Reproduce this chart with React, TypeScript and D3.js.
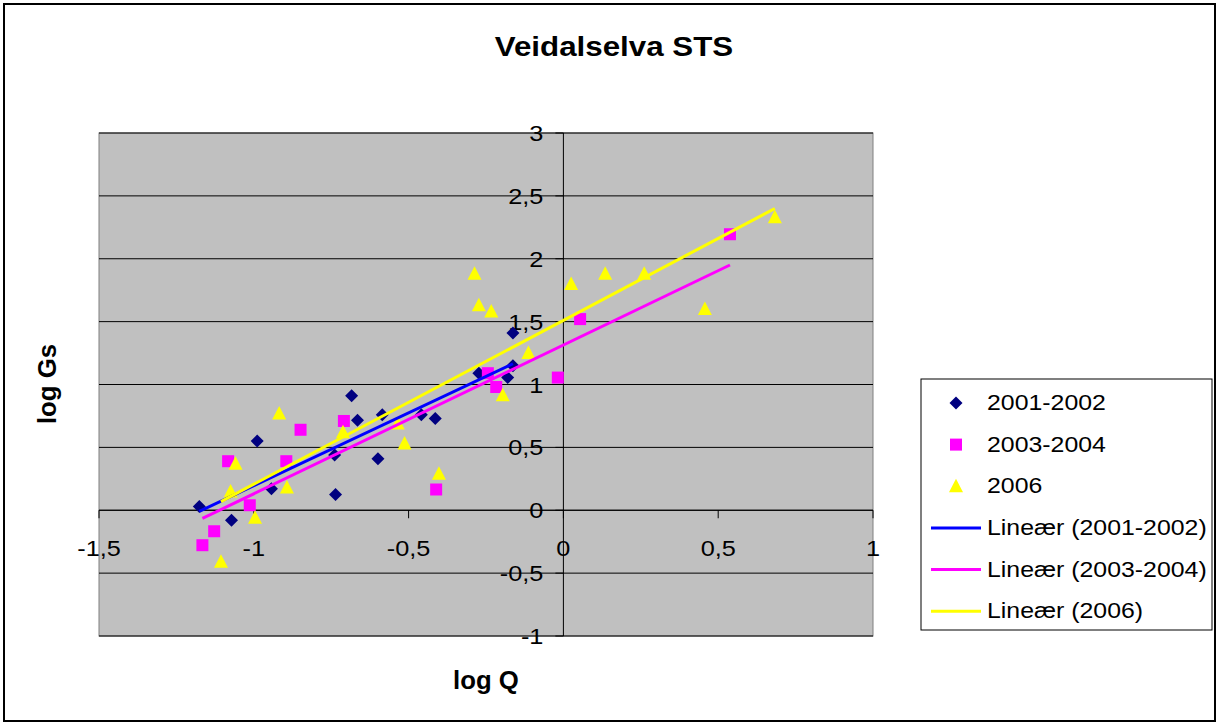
import React from "react"
import * as d3 from "d3"

const W = 1217
const H = 724

// series data (log Q, log Gs)
const S2001_X = [-1.176, -1.072, -0.989, -0.943, -0.736, -0.739, -0.684, -0.665, -0.599, -0.585, -0.459, -0.414, -0.273, -0.18, -0.163, -0.163]
const S2001_Y = [0.03, -0.08, 0.55, 0.17, 0.125, 0.44, 0.91, 0.716, 0.41, 0.76, 0.76, 0.73, 1.09, 1.055, 1.15, 1.41]

const S2003_X = [-1.166, -1.128, -1.083, -1.013, -0.895, -0.849, -0.709, -0.411, -0.244, -0.217, -0.018, 0.054, 0.538]
const S2003_Y = [-0.278, -0.167, 0.39, 0.04, 0.39, 0.64, 0.71, 0.165, 1.09, 0.98, 1.055, 1.52, 2.195]

const S2006_X = [-1.106, -1.075, -1.059, -0.996, -0.918, -0.893, -0.712, -0.535, -0.513, -0.402, -0.287, -0.273, -0.233, -0.196, -0.113, 0.025, 0.135, 0.261, 0.457, 0.683]
const S2006_Y = [-0.41, 0.15, 0.37, -0.06, 0.77, 0.18, 0.62, 0.69, 0.53, 0.29, 1.88, 1.63, 1.58, 0.915, 1.25, 1.8, 1.88, 1.88, 1.6, 2.33]

// linear trendlines (slope, intercept) as shown on the chart
const TREND_SLOPE = [1.159, 1.183, 1.303]
const TREND_INTERCEPT = [1.354, 1.314, 1.51]

const SERIES_NAMES = ["2001-2002", "2003-2004", "2006"]
const TREND_NAMES = ["Lineær (2001-2002)", "Lineær (2003-2004)", "Lineær (2006)"]

const X_TICKS = [-1.5, -1, -0.5, 0, 0.5, 1]
const Y_TICKS = [-1, -0.5, 0, 0.5, 1, 1.5, 2, 2.5, 3]

const MARKER_COLORS = ["#000080", "#FF00FF", "#FFFF00"]
const LINE_COLORS = ["#0000FF", "#FF00FF", "#FFFF00"]

const fmt = (v: number) => String(v).replace(".", ",")

// text that is a bit wider than the font, like the original rendering
function T({ x, y, sx = 1.1, size, bold, anchor = "start", rotate = 0, children }: any) {
  return (
    <text
      transform={`translate(${x},${y}) rotate(${rotate}) scale(${sx},1)`}
      fontSize={size}
      fontWeight={bold ? "bold" : "normal"}
      textAnchor={anchor}
    >
      {children}
    </text>
  )
}

function Marker({ kind, x, y }: { kind: number; x: number; y: number }) {
  if (kind === 0) {
    const r = 6.5
    return <path d={`M${x},${y - r}L${x + r},${y}L${x},${y + r}L${x - r},${y}Z`} fill={MARKER_COLORS[0]} />
  }
  if (kind === 1) {
    return <rect x={x - 6} y={y - 6} width={12} height={12} fill={MARKER_COLORS[1]} />
  }
  return <path d={`M${x},${y - 7.5}L${x + 7},${y + 6}L${x - 7},${y + 6}Z`} fill={MARKER_COLORS[2]} />
}

export default function App() {
  const left = 99
  const right = 873
  const top = 133
  const bottom = 636

  const x = d3.scaleLinear().domain([-1.5, 1]).range([left, right])
  const y = d3.scaleLinear().domain([-1, 3]).range([bottom, top])

  const series = [
    { xs: S2001_X, ys: S2001_Y },
    { xs: S2003_X, ys: S2003_Y },
    { xs: S2006_X, ys: S2006_Y },
  ]

  const line = d3
    .line<[number, number]>()
    .x(d => x(d[0]))
    .y(d => y(d[1]))

  const font = "'Liberation Sans', Arial, sans-serif"

  return (
    <svg
      width={W}
      height={H}
      style={{ position: "absolute", left: 0, top: 0, background: "#fff" }}
      fontFamily={font}
    >
      <rect x={4} y={4} width={W - 6} height={H - 7} fill="#fff" stroke="#000" strokeWidth={2} />

      <T x={614} y={56} size={27} sx={1.16} bold anchor="middle">
        Veidalselva STS
      </T>

      {/* plot area */}
      <rect x={left} y={top} width={right - left} height={bottom - top} fill="#C0C0C0" stroke="#808080" strokeWidth={1} />

      {Y_TICKS.map(t => (
        <line key={"g" + t} x1={left} x2={right} y1={y(t)} y2={y(t)} stroke="#000" strokeWidth={1} />
      ))}

      {/* axes crossing at 0 */}
      <line x1={left} x2={right} y1={y(0)} y2={y(0)} stroke="#000" strokeWidth={1} />
      <line x1={x(0)} x2={x(0)} y1={top} y2={bottom} stroke="#000" strokeWidth={1} />

      {X_TICKS.map(t => (
        <g key={"xt" + t}>
          <line x1={x(t)} x2={x(t)} y1={y(0)} y2={y(0) + 8} stroke="#000" strokeWidth={1} />
          <T x={x(t)} y={y(0) + 46} size={22} sx={1.15} anchor="middle">
            {fmt(t)}
          </T>
        </g>
      ))}

      {Y_TICKS.map(t => (
        <g key={"yt" + t}>
          <line x1={x(0) - 8} x2={x(0)} y1={y(t)} y2={y(t)} stroke="#000" strokeWidth={1} />
          <T x={x(0) - 20} y={y(t) + 8} size={22} sx={1.15} anchor="end">
            {fmt(t)}
          </T>
        </g>
      ))}

      {/* markers */}
      {series.map((s, k) =>
        s.xs.map((xv, i) => <Marker key={k + "-" + i} kind={k} x={x(xv)} y={y(s.ys[i])} />)
      )}

      {/* trend lines */}
      {series.map((s, k) => {
        const [x0, x1] = d3.extent(s.xs) as [number, number]
        const pts: [number, number][] = [
          [x0, TREND_SLOPE[k] * x0 + TREND_INTERCEPT[k]],
          [x1, TREND_SLOPE[k] * x1 + TREND_INTERCEPT[k]],
        ]
        return <path key={"tl" + k} d={line(pts) || ""} fill="none" stroke={LINE_COLORS[k]} strokeWidth={3} />
      })}

      {/* axis titles */}
      <T x={486} y={689} size={25} sx={1.03} bold anchor="middle">
        log Q
      </T>
      <T x={56} y={384} size={25} sx={1.03} bold anchor="middle" rotate={-90}>
        log Gs
      </T>

      {/* legend */}
      <rect x={921} y={379} width={291} height={251} fill="#fff" stroke="#000" strokeWidth={1} />
      {SERIES_NAMES.map((name, k) => {
        const cy = 403 + k * 41.6
        return (
          <g key={"lg" + k}>
            <Marker kind={k} x={956} y={cy} />
            <T x={987} y={cy + 7} size={22} sx={1.13}>
              {name}
            </T>
          </g>
        )
      })}
      {TREND_NAMES.map((name, k) => {
        const cy = 528 + k * 41.6
        return (
          <g key={"lt" + k}>
            <line x1={931} x2={981} y1={cy} y2={cy} stroke={LINE_COLORS[k]} strokeWidth={3} />
            <T x={987} y={cy + 7} size={22} sx={1.13}>
              {name}
            </T>
          </g>
        )
      })}
    </svg>
  )
}
